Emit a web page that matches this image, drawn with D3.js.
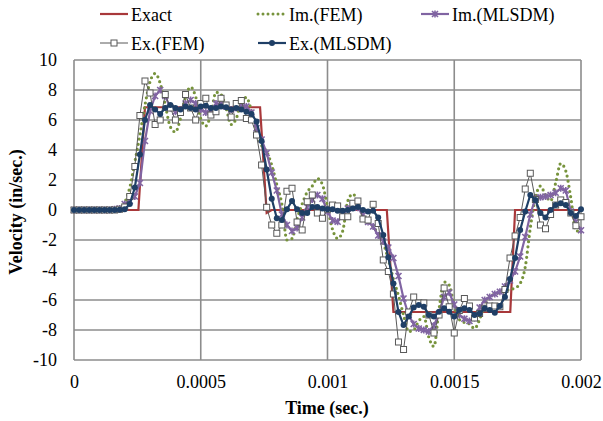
<!DOCTYPE html>
<html>
<head>
<meta charset="utf-8">
<script src="https://cdn.jsdelivr.net/npm/d3@7"></script>
</head>
<body style="margin:0">
<script>
// time step of the sampled series (sec.)
const dt = 0.00002;

// exact solution, piecewise
const exactTime = [0, 0.000254, 0.00028, 0.000734, 0.00076, 0.00078, 0.001234, 0.00126, 0.001721, 0.00174, 0.002];
const exactVel  = [0, 0, 6.85, 6.85, -0.2, 0, 0, -6.8, -6.8, 0, 0];

const imFEM = [0,0,0,0,0,0,0,0,0,0.05,
  0.5,1.5,3.2,5.0,7.0,8.55,9.1,8.45,7.0,5.55,
  5.2,6.1,7.55,8.2,7.55,6.1,5.6,6.4,7.85,7.7,
  6.8,5.7,6.1,7.2,7.5,6.6,5.2,4.3,3.9,3.0,
  1.7,0.4,-2.0,-1.9,-0.6,0.4,1.2,1.6,2.1,1.7,
  0.2,-1.3,-1.9,-1.4,0.6,1.07,0.5,-0.4,-0.8,-1.1,
  -1.6,-2.2,-3.3,-4.6,-5.7,-7.0,-8.1,-8.0,-7.4,-7.1,
  -8.5,-9.1,-6.6,-4.8,-5.0,-6.4,-7.3,-7.5,-7.6,-7.9,
  -7.3,-6.3,-5.8,-5.6,-5.5,-5.4,-5.3,-5.2,-4.9,-3.8,
  -1.2,0.8,1.6,1.0,0.6,1.8,3.1,2.6,0.8,-1.4,
  -1.4];

const imMLSDM = [0,0,0,0,0,0,0,0,0.05,0.1,
  0.4,0.6,0.9,1.8,4.6,6.6,7.6,8.0,7.6,6.8,
  6.55,6.67,7.1,7.33,7.1,6.7,6.5,6.6,7.1,7.1,
  6.9,6.7,6.8,7.0,6.9,6.5,5.45,4.7,3.8,2.5,
  1.3,-0.3,-1.0,-1.4,-1.2,-0.5,0.2,0.7,1.0,0.75,
  -0.1,-0.7,-0.78,-0.3,0.1,0.35,0.15,-0.35,-0.8,-1.1,
  -1.7,-2.1,-2.5,-3.2,-4.4,-5.9,-7.0,-7.6,-7.9,-8.0,
  -8.1,-7.7,-6.9,-5.8,-5.5,-6.3,-7.0,-7.25,-7.4,-7.2,
  -6.5,-6.0,-5.8,-5.6,-5.45,-5.1,-4.7,-4.1,-3.1,-1.8,
  -0.3,0.78,0.85,0.9,1.0,1.15,1.45,1.3,-0.1,-0.8,
  -1.35];

const exFEM = [0,0,0,0,0,0,0,0,0,0.05,
  0.2,0.9,2.9,6.3,8.6,7.8,5.7,6.0,7.7,6.8,
  6.0,6.5,7.7,6.8,6.0,7.1,7.45,6.33,6.55,7.45,
  7.0,6.2,7.1,7.3,6.1,6.0,5.0,3.0,0.18,-1.0,
  -1.55,-1.0,1.25,1.45,-0.8,-1.33,0.55,1.0,-0.2,-0.55,
  0.05,0.33,0.27,-0.45,-0.45,0.45,0.6,-0.6,-0.67,0.38,
  -0.9,-3.33,-4.1,-5.6,-8.8,-9.3,-6.8,-5.8,-6.2,-6.2,
  -7.0,-8.2,-7.0,-5.2,-6.45,-8.2,-6.7,-5.9,-6.4,-7.2,
  -6.9,-6.55,-6.4,-6.4,-6.45,-5.3,-3.2,-1.73,-0.5,1.4,
  2.45,0.7,-1.0,-1.25,-0.3,0.33,0.67,0.5,-0.2,-1.05,
  -0.45];

const exMLSDM = [0,0,0,0,0,0,0,0,0,0.02,
  0.05,0.4,1.5,3.7,6.0,7.0,6.7,6.4,6.8,7.0,
  6.8,6.7,6.9,6.8,6.7,6.9,6.95,6.8,6.8,6.9,
  6.85,6.7,6.8,6.7,6.55,6.4,5.9,4.6,2.7,0.75,
  -0.55,-0.67,0.05,0.6,0.05,-0.2,-0.2,0.2,0.2,0.1,
  0.05,0.05,-0.05,-0.05,0.0,0.1,0.2,0.0,-0.1,-0.05,
  -0.5,-1.67,-3.15,-4.9,-6.8,-7.67,-7.1,-6.5,-6.33,-6.45,
  -7.0,-7.1,-6.78,-6.55,-6.78,-7.1,-6.67,-6.55,-6.67,-7.0,
  -6.9,-6.55,-6.67,-6.85,-6.4,-5.8,-4.6,-3.2,-1.33,-0.1,
  1.0,0.67,-0.2,-0.5,0.0,0.33,0.45,0.33,-0.2,-0.4,
  0.05];

const xTicks = [0, 0.0005, 0.001, 0.0015, 0.002];
const xTickLabels = ["0", "0.0005", "0.001", "0.0015", "0.002"];
const yTicks = [-10, -8, -6, -4, -2, 0, 2, 4, 6, 8, 10];

const width = 603, height = 421;
const font = "Liberation Serif";

const svg = d3.select("body").append("svg")
    .attr("width", width)
    .attr("height", height)
    .style("font-family", font)
    .style("background", "#fff");

const x = d3.scaleLinear().domain([0, 0.002]).range([74, 581]);
const y = d3.scaleLinear().domain([-10, 10]).range([360, 60]);

// gridlines
svg.append("g")
  .selectAll("line.h")
  .data(yTicks)
  .enter().append("line")
    .attr("x1", x(0)).attr("x2", x(0.002))
    .attr("y1", d => y(d)).attr("y2", d => y(d))
    .attr("stroke", "#8c8c8c").attr("stroke-width", 1.6);

svg.append("g")
  .selectAll("line.v")
  .data(xTicks)
  .enter().append("line")
    .attr("x1", d => x(d)).attr("x2", d => x(d))
    .attr("y1", y(10)).attr("y2", y(-10))
    .attr("stroke", "#8c8c8c").attr("stroke-width", 1.6);

// axis labels
const yAxis = d3.axisLeft(y).tickValues(yTicks).tickFormat(d => String(d))
    .tickSize(0).tickPadding(17);
svg.append("g")
    .attr("transform", "translate(" + x(0) + ",0)")
    .call(yAxis)
    .attr("font-family", null).attr("font-size", null)
    .call(g => g.select(".domain").remove())
    .selectAll("text")
      .style("font-family", font)
      .style("font-size", "18px")
      .style("fill", "#000");

const xAxis = d3.axisBottom(x).tickValues(xTicks)
    .tickFormat((d, i) => xTickLabels[i]).tickSize(0).tickPadding(15);
svg.append("g")
    .attr("transform", "translate(0," + y(-10) + ")")
    .call(xAxis)
    .attr("font-family", null).attr("font-size", null)
    .call(g => g.select(".domain").remove())
    .selectAll("text")
      .style("font-family", font)
      .style("font-size", "18px")
      .style("fill", "#000");

svg.append("text")
    .attr("x", 327).attr("y", 414)
    .attr("text-anchor", "middle")
    .style("font-family", font)
    .style("font-size", "18px").style("font-weight", "bold")
    .text("Time (sec.)");

svg.append("text")
    .attr("transform", "translate(22,212)rotate(-90)")
    .attr("text-anchor", "middle")
    .style("font-family", font)
    .style("font-size", "18px").style("font-weight", "bold")
    .text("Velocity (in/sec.)");

// series
const line = d3.line().x(d => x(d[0])).y(d => y(d[1]));
const smooth = d3.line().x(d => x(d[0])).y(d => y(d[1])).curve(d3.curveMonotoneX);
const sampled = arr => arr.map((v, i) => [i * dt, v]);
const exactPts = exactTime.map((t, i) => [t, exactVel[i]]);

const plot = svg.append("g");

plot.append("path").datum(exactPts)
    .attr("d", line).attr("fill", "none")
    .attr("stroke", "#a8383a").attr("stroke-width", 2.2);

plot.append("path").datum(sampled(imFEM))
    .attr("d", smooth).attr("fill", "none")
    .attr("stroke", "#77933c").attr("stroke-width", 3.2)
    .attr("stroke-linecap", "round").attr("stroke-dasharray", "0,5.2");

// Im.(MLSDM) with star markers
const starPath = "M-3,-3L3,3M-3,3L3,-3M0,-3.5L0,3.5";
plot.append("path").datum(sampled(imMLSDM))
    .attr("d", line).attr("fill", "none")
    .attr("stroke", "#8064a2").attr("stroke-width", 2.2);
plot.append("g").selectAll("path")
  .data(sampled(imMLSDM))
  .enter().append("path")
    .attr("transform", d => "translate(" + x(d[0]) + "," + y(d[1]) + ")")
    .attr("d", starPath)
    .attr("stroke", "#8064a2").attr("stroke-width", 1.6).attr("fill", "none");

// Ex.(FEM) with open squares
plot.append("path").datum(sampled(exFEM))
    .attr("d", line).attr("fill", "none")
    .attr("stroke", "#595959").attr("stroke-width", 1);
plot.append("g").selectAll("rect")
  .data(sampled(exFEM))
  .enter().append("rect")
    .attr("x", d => x(d[0]) - 3).attr("y", d => y(d[1]) - 3)
    .attr("width", 6).attr("height", 6)
    .attr("fill", "#fff").attr("stroke", "#595959").attr("stroke-width", 1);

// Ex.(MLSDM) with dots
plot.append("path").datum(sampled(exMLSDM))
    .attr("d", line).attr("fill", "none")
    .attr("stroke", "#1f3f66").attr("stroke-width", 2.2);
plot.append("g").selectAll("circle")
  .data(sampled(exMLSDM))
  .enter().append("circle")
    .attr("cx", d => x(d[0])).attr("cy", d => y(d[1]))
    .attr("r", 3)
    .attr("fill", "#1f3f66");

// legend
const legend = svg.append("g");
function legendItem(x0, y0, label, color, kind) {
  const g = legend.append("g").attr("transform", "translate(" + x0 + "," + y0 + ")");
  const ln = g.append("line").attr("x1", 0).attr("x2", 28).attr("y1", 0).attr("y2", 0)
      .attr("stroke", color);
  if (kind === "dot") {
    ln.attr("stroke-width", 3).attr("stroke-linecap", "round").attr("stroke-dasharray", "0,5");
  } else if (kind === "square") {
    ln.attr("stroke-width", 1);
    g.append("rect").attr("x", 11).attr("y", -3).attr("width", 6).attr("height", 6)
      .attr("fill", "#fff").attr("stroke", color);
  } else if (kind === "star") {
    ln.attr("stroke-width", 2.2);
    g.append("path").attr("transform", "translate(14,0)").attr("d", starPath)
      .attr("stroke", color).attr("stroke-width", 1.6);
  } else if (kind === "circle") {
    ln.attr("stroke-width", 2.2);
    g.append("circle").attr("cx", 14).attr("cy", 0).attr("r", 3).attr("fill", color);
  } else {
    ln.attr("stroke-width", 2.2);
  }
  g.append("text").attr("x", 31).attr("y", 7)
    .style("font-family", font).style("font-size", "18px")
    .text(label);
}
legendItem(100, 14, "Exact", "#a8383a", "line");
legendItem(258, 14, "Im.(FEM)", "#77933c", "dot");
legendItem(421, 14, "Im.(MLSDM)", "#8064a2", "star");
legendItem(100, 43, "Ex.(FEM)", "#595959", "square");
legendItem(258, 43, "Ex.(MLSDM)", "#1f3f66", "circle");
</script>
</body>
</html>
